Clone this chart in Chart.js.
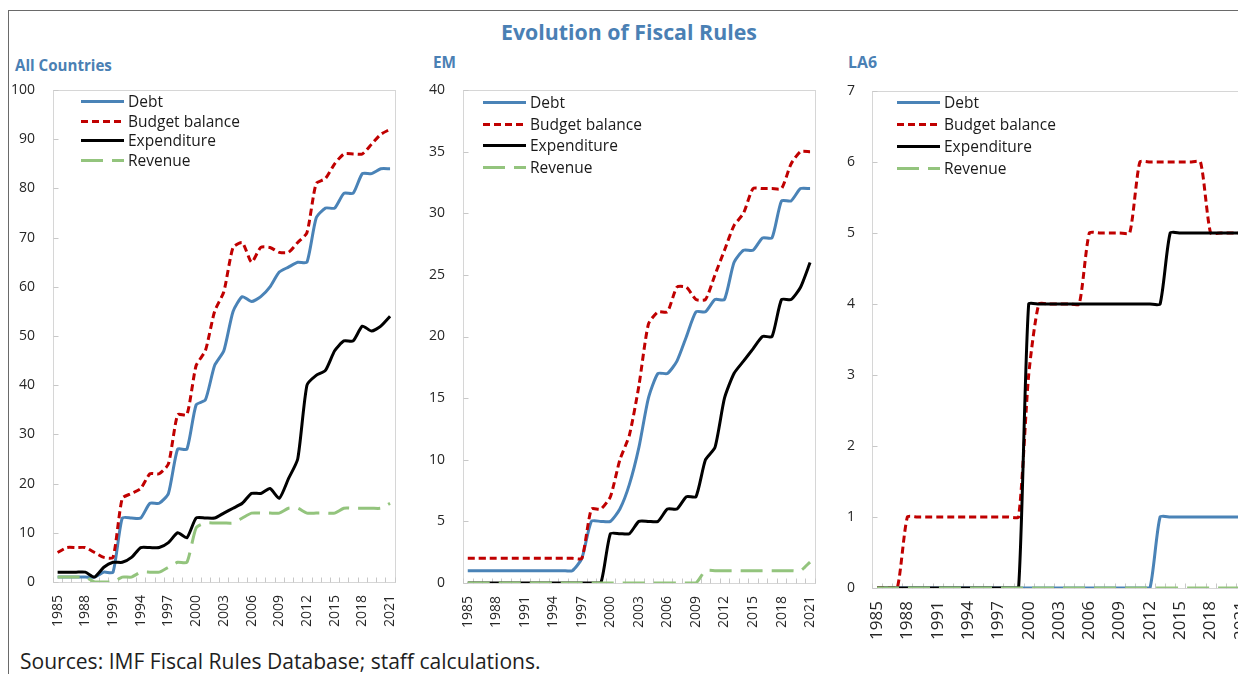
<!DOCTYPE html>
<html><head><meta charset="utf-8">
<script src="https://cdn.jsdelivr.net/npm/chart.js@4.4.1/dist/chart.umd.min.js"></script>
<style>
html,body{margin:0;padding:0;width:1238px;height:674px;overflow:hidden;background:#fff;font-family:"Open Sans",sans-serif;}
#frame{position:absolute;left:8px;top:10px;width:1400px;height:800px;border-left:1px solid #6a6a6a;border-top:1px solid #6a6a6a;}
.t{position:absolute;white-space:nowrap;line-height:1;}
.b{color:#4a80b4;font-weight:bold;}
canvas{position:absolute;top:0;}
</style></head><body>
<div id="frame"></div>
<div class="t b" id="title" data-cx="629" data-cy="32" data-w="256" style="font-size:20px;">Evolution of Fiscal Rules</div>
<div class="t b" id="s1" data-x="15" data-cy="65.5" data-w="97" style="font-size:15px;">All Countries</div>
<div class="t b" id="s2" data-x="433" data-cy="62.5" data-w="23" style="font-size:15px;">EM</div>
<div class="t b" id="s3" data-x="848" data-cy="62.5" data-w="29" style="font-size:15px;">LA6</div>
<div class="t" id="src" data-x="20" data-cy="661" data-w="521" style="font-size:18px;color:#1e1e1e;">Sources: IMF Fiscal Rules Database; staff calculations.</div>
<canvas id="c1" width="420" height="674" style="left:0px"></canvas>
<canvas id="c2" width="420" height="674" style="left:420px"></canvas>
<canvas id="c3" width="460" height="674" style="left:830px"></canvas>
<script>
const years = ['1985','1986','1987','1988','1989','1990','1991','1992','1993','1994','1995','1996','1997','1998','1999','2000','2001','2002','2003','2004','2005','2006','2007','2008','2009','2010','2011','2012','2013','2014','2015','2016','2017','2018','2019','2020','2021'];
const seriesNames = ['Debt','Budget balance','Expenditure','Revenue'];

// All Countries
const allDebt    = [1,1,1,1,1,2,2,13,13,13,16,16,18,27,27,36,37,44,47,55,58,57,58,60,63,64,65,65,74,76,76,79,79,83,83,84,84];
const allBudget  = [6,7,7,7,6,5,5,17,18,19,22,22,24,34,34,44,47,55,59,68,69,65,68,68,67,67,69,71,81,82,85,87,87,87,89,91,92];
const allExp     = [2,2,2,2,1,3,4,4,5,7,7,7,8,10,9,13,13,13,14,15,16,18,18,19,17,21,25,40,42,43,47,49,49,52,51,52,54];
const allRev     = [1,1,1,1,0,0,0,1,1,2,2,2,3,4,4,11,12,12,12,12,13,14,14,14,14,15,15,14,14,14,14,15,15,15,15,15,16];
// EM
const emDebt     = [1,1,1,1,1,1,1,1,1,1,1,1,2,5,5,5,6,8,11,15,17,17,18,20,22,22,23,23,26,27,27,28,28,31,31,32,32];
const emBudget   = [2,2,2,2,2,2,2,2,2,2,2,2,2,6,6,7,10,12,16,21,22,22,24,24,23,23,25,27,29,30,32,32,32,32,34,35,35];
const emExp      = [0,0,0,0,0,0,0,0,0,0,0,0,0,0,0,4,4,4,5,5,5,6,6,7,7,10,11,15,17,18,19,20,20,23,23,24,26];
const emRev      = [0,0,0,0,0,0,0,0,0,0,0,0,0,0,0,0,0,0,0,0,0,0,0,0,0,1,1,1,1,1,1,1,1,1,1,1,1.7];
// LA6
const laDebt     = [0,0,0,0,0,0,0,0,0,0,0,0,0,0,0,0,0,0,0,0,0,0,0,0,0,0,0,0,1,1,1,1,1,1,1,1,1];
const laBudget   = [0,0,0,1,1,1,1,1,1,1,1,1,1,1,1,3,4,4,4,4,4,5,5,5,5,5,6,6,6,6,6,6,6,5,5,5,5];
const laExp      = [0,0,0,0,0,0,0,0,0,0,0,0,0,0,0,4,4,4,4,4,4,4,4,4,4,4,4,4,4,5,5,5,5,5,5,5,5];
const laRev      = [0,0,0,0,0,0,0,0,0,0,0,0,0,0,0,0,0,0,0,0,0,0,0,0,0,0,0,0,0,0,0,0,0,0,0,0,0];

const yTicks1 = [0,10,20,30,40,50,60,70,80,90,100];
const yTicks2 = [0,5,10,15,20,25,30,35,40];
const yTicks3 = [0,1,2,3,4,5,6,7];

const BLUE='#4a83b7', RED='#c00000', BLACK='#000000', GREEN='#93c47d';
const FONT='"Open Sans", sans-serif';

// fit HTML text widths
document.querySelectorAll('.t').forEach(el=>{
  const cs=getComputedStyle(el);
  const c=document.createElement('canvas').getContext('2d');
  c.font=`${cs.fontWeight} ${cs.fontSize} ${cs.fontFamily}`;
  const w=c.measureText(el.textContent).width;
  const size=parseFloat(cs.fontSize)*(+el.dataset.w)/w;
  el.style.fontSize=size+'px';
  el.style.top=(+el.dataset.cy - size*0.5)+'px';
  if(el.dataset.cx){el.style.left=(+el.dataset.cx - (+el.dataset.w)/2)+'px';}
  else el.style.left=el.dataset.x+'px';
});

const framePlugin={
  id:'framePlugin',
  beforeDatasetsDraw(chart){
    const {ctx,chartArea:a,scales:{x,y}}=chart;
    ctx.save();
    ctx.strokeStyle='#d6d6d6';ctx.lineWidth=1;
    const L=Math.round(a.left)+0.5,T=Math.round(a.top)+0.5,R=Math.round(a.right)+0.5,B=Math.round(a.bottom)+0.5;
    ctx.strokeRect(L,T,R-L,B-T);
    ctx.beginPath();
    ctx.strokeStyle='#c8c8c8';
    y.ticks.forEach((t,i)=>{const py=Math.round(y.getPixelForTick(i))+0.5;ctx.moveTo(L,py);ctx.lineTo(L+5,py);});
    for(let i=0;i<=years.length;i++){const px=Math.round(x.getPixelForValue(i-0.5))+0.5;ctx.moveTo(px,B);ctx.lineTo(px,B-5);}
    ctx.stroke();
    ctx.restore();
  }
};
const innerLegend={
  id:'innerLegend',
  afterDatasetsDraw(chart,args,o){
    const ctx=chart.ctx,a=chart.chartArea;
    ctx.save();
    ctx.font=o.font;ctx.textBaseline='middle';
    chart.data.datasets.forEach((ds,i)=>{
      const y=Math.round(a.top+o.top+i*o.gap)+0.5,x0=a.left+o.left;
      ctx.beginPath();ctx.setLineDash(ds.borderDash||[]);ctx.lineDashOffset=0;
      ctx.strokeStyle=ds.borderColor;ctx.lineWidth=ds.borderWidth;ctx.lineCap='butt';
      ctx.moveTo(x0,y);ctx.lineTo(x0+o.len,y);ctx.stroke();
      ctx.setLineDash([]);ctx.fillStyle='#1a1a1a';
      ctx.fillText(ds.label,x0+o.len+4,y+1);
    });
    ctx.restore();
  }
};

function makeChart(id,c){
  return new Chart(document.getElementById(id),{
    type:'line',
    data:{labels:years,datasets:[
      {label:seriesNames[0],data:c.d[0],borderColor:BLUE,borderWidth:3,order:4},
      {label:seriesNames[1],data:c.d[1],borderColor:RED,borderWidth:3,borderDash:[7,4],order:3},
      {label:seriesNames[2],data:c.d[2],borderColor:BLACK,borderWidth:3,order:2},
      {label:seriesNames[3],data:c.d[3],borderColor:GREEN,borderWidth:3,borderDash:[22,9],order:1}
    ]},
    options:{
      responsive:false,animation:false,devicePixelRatio:1,
      elements:{point:{radius:0,hitRadius:0},line:{tension:0.2,fill:false,borderCapStyle:'butt',borderJoinStyle:'round'}},
      layout:{padding:{left:0,right:c.padR,top:c.top,bottom:0}},
      plugins:{legend:{display:false},tooltip:{enabled:false},
        innerLegend:{left:c.lg.left,top:c.lg.top,gap:c.lg.gap,len:43,font:c.lg.font}},
      scales:{
        x:{type:'category',offset:true,grid:{display:false,drawTicks:false,offset:true},border:{display:false},
          ticks:{autoSkip:false,maxRotation:90,minRotation:90,padding:13,color:'#262626',font:{family:FONT,size:c.xfs},
            callback:(v,i)=> (i%3===0? years[i] : '')},
          afterFit(s){s.height=c.xh;}},
        y:{min:0,max:c.yt[c.yt.length-1],grid:{display:false,drawTicks:false},border:{display:false},
          afterBuildTicks(s){s.ticks=c.yt.map(v=>({value:v}));},
          ticks:{padding:c.ypad,color:'#262626',font:{family:FONT,size:14}},
          afterFit(s){s.width=c.yw;}}
      }
    },
    plugins:[framePlugin,innerLegend]
  });
}

makeChart('c1',{d:[allDebt,allBudget,allExp,allRev],yt:yTicks1,padR:11,top:90,xh:92,yw:53,ypad:18,xfs:14,
  lg:{left:28,top:11,gap:19.7,font:'15.5px '+FONT}});
makeChart('c2',{d:[emDebt,emBudget,emExp,emRev],yt:yTicks2,padR:11,top:90,xh:91,yw:43,ypad:18,xfs:14,
  lg:{left:20,top:12,gap:21.7,font:'15.5px '+FONT}});
makeChart('c3',{d:[laDebt,laBudget,laExp,laRev],yt:yTicks3,padR:44,top:91,xh:86,yw:42,ypad:17,xfs:17,
  lg:{left:25,top:11,gap:22,font:'15.5px '+FONT}});
</script>
</body></html>
